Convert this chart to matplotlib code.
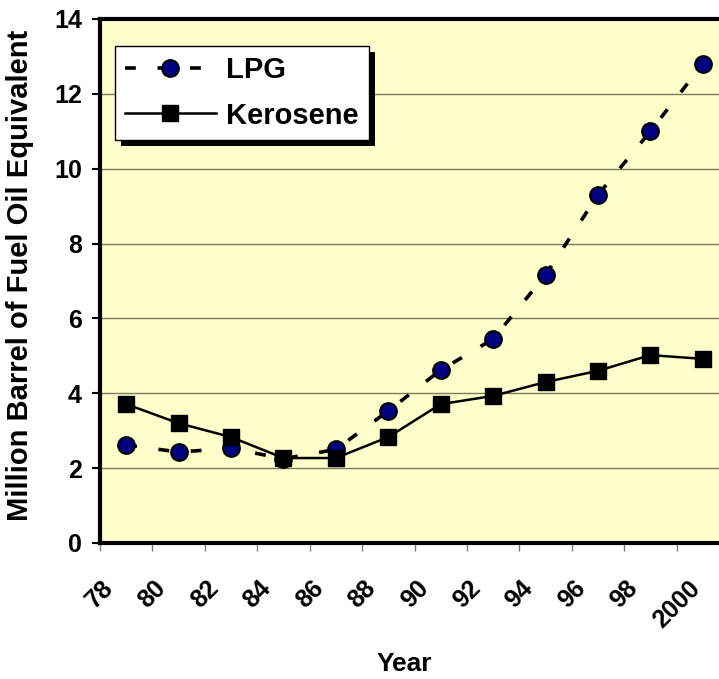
import matplotlib
matplotlib.use('Agg')
import matplotlib.pyplot as plt
from matplotlib.patches import Rectangle

# Consumption, million barrel of fuel oil equivalent
years = [79, 81, 83, 85, 87, 89, 91, 93, 95, 97, 99, 101]
lpg = [2.62, 2.43, 2.53, 2.25, 2.5, 3.53, 4.62, 5.45, 7.16, 9.3, 11.0, 12.8]
kerosene = [3.71, 3.2, 2.83, 2.27, 2.27, 2.83, 3.71, 3.93, 4.3, 4.6, 5.02, 4.92]
tick_years = [78, 80, 82, 84, 86, 88, 90, 92, 94, 96, 98, 100]
tick_labels = ['78', '80', '82', '84', '86', '88', '90', '92', '94', '96', '98', '2000']

plt.rcParams['font.family'] = 'Liberation Sans'
plt.rcParams['font.weight'] = 'bold'

W, H = 719, 679
fig = plt.figure(figsize=(W / 100, H / 100), dpi=100)
fig.patch.set_facecolor('white')
# right edge runs past the figure, the last category is cut off
ax = fig.add_axes([100 / W, (H - 543) / H, 629 / W, 524 / H])
ax.set_facecolor('#FFFFCC')

ax.plot(years, lpg, color='black', lw=2.6, dashes=(3, 6), marker='o',
        markersize=12, markerfacecolor='#000080', markeredgecolor='black',
        markeredgewidth=1.5, label='LPG', zorder=3)
ax.plot(years, kerosene, color='black', lw=1.8, marker='s',
        markersize=12, markerfacecolor='black', markeredgecolor='black',
        label='Kerosene', zorder=4)

ax.set_xlim(78, 102)
ax.set_ylim(0, 14)
ax.set_yticks(range(0, 15, 2))
ax.set_xticks(tick_years)
ax.set_xticklabels(tick_labels, rotation=45, ha='center', va='top')
ax.tick_params(axis='x', length=6, width=1, color='#808080', pad=18, labelsize=18)
ax.tick_params(axis='y', length=6, width=1.5, pad=7, labelsize=18)
ax.yaxis.grid(True, color='#7a7a60', lw=1)
ax.set_axisbelow(True)

for s in ['left', 'bottom', 'top']:
    ax.spines[s].set_linewidth(3)
ax.spines['right'].set_visible(False)

ax.set_xlabel('Year', fontsize=19, fontweight='bold')
ax.set_ylabel('Million Barrel of Fuel Oil Equivalent', fontsize=21,
              fontweight='bold')
ax.xaxis.set_label_coords(304 / 629, -0.208)
ax.yaxis.set_label_coords(-0.105, 0.51)

leg = ax.legend(loc='upper left', bbox_to_anchor=(15 / 629, 1 - 27 / 524),
                fontsize=21, handlelength=3.1, handletextpad=0.35,
                labelspacing=0.6, borderpad=0.35, borderaxespad=0,
                fancybox=False, framealpha=1, edgecolor='black')
leg.get_frame().set_linewidth(1)
leg.set_zorder(6)

# hard drop shadow behind the legend box
fig.canvas.draw()
bb = leg.get_window_extent().transformed(ax.transAxes.inverted())
dx, dy = 6 / 629, 6 / 524
ax.add_patch(Rectangle((bb.x0 + dx, bb.y0 - dy), bb.width, bb.height,
                       transform=ax.transAxes, facecolor='black',
                       edgecolor='none', zorder=5.5, clip_on=False))

fig.savefig('out.png', dpi=100)
